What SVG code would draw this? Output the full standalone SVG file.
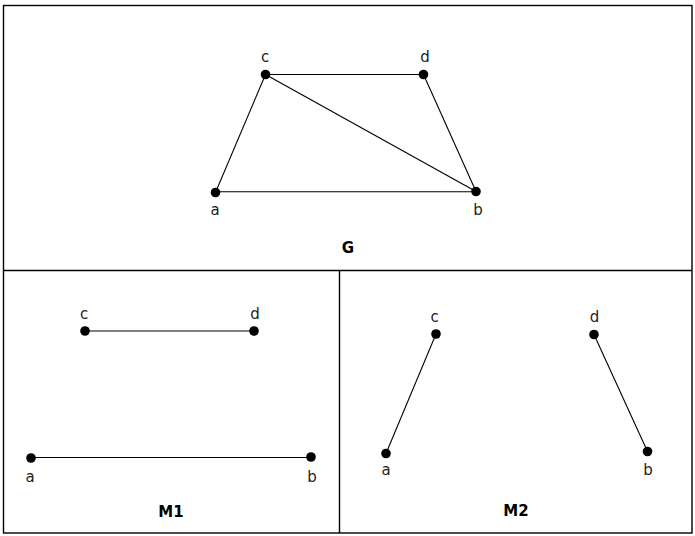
<svg xmlns="http://www.w3.org/2000/svg" width="695" height="536" viewBox="0 0 695 536">
<style>
.frame{fill:none;stroke:#000;stroke-width:1.4}
.edge{stroke:#000;stroke-width:1.1;fill:none}
.dot{fill:#000}
.lbl{font-family:"DejaVu Sans",Verdana,sans-serif;font-size:15px;fill:#222;text-anchor:middle}
.ttl{font-family:"DejaVu Sans",Verdana,sans-serif;font-size:15px;font-weight:bold;fill:#000;text-anchor:middle}
</style>
<rect width="695" height="536" fill="#fff"/>
<g id="frame" class="frame">
<rect x="3.5" y="5.5" width="688.5" height="527.5"/>
<line x1="3.5" y1="270.5" x2="692" y2="270.5"/>
<line x1="339.5" y1="270.5" x2="339.5" y2="533"/>
</g>
<g id="connectors" class="edge">
<line x1="265.5" y1="74.5" x2="423.5" y2="74.5"/>
<line x1="265.5" y1="74.5" x2="215.5" y2="192.5"/>
<line x1="265.5" y1="74.5" x2="476" y2="191.5"/>
<line x1="423.5" y1="74.5" x2="476" y2="191.5"/>
<line x1="215.5" y1="191.8" x2="476" y2="191.8"/>
<line x1="85" y1="331" x2="254" y2="331"/>
<line x1="31" y1="457.5" x2="311" y2="457.5"/>
<line x1="436" y1="334" x2="386" y2="453.5"/>
<line x1="594" y1="334.5" x2="647.5" y2="451.5"/>
</g>
<g id="G">
<g id="G-c"><circle class="dot" cx="265.5" cy="74.5" r="4.8"/><text class="lbl" x="265" y="62">c</text></g>
<g id="G-d"><circle class="dot" cx="423.5" cy="74.5" r="4.8"/><text class="lbl" x="425" y="62">d</text></g>
<g id="G-a"><circle class="dot" cx="215.5" cy="192.5" r="4.8"/><text class="lbl" x="215" y="215">a</text></g>
<g id="G-b"><circle class="dot" cx="476" cy="191.5" r="4.8"/><text class="lbl" x="478" y="215">b</text></g>
<text class="ttl" x="348" y="253">G</text>
</g>
<g id="M1">
<g id="M1-c"><circle class="dot" cx="85" cy="331" r="4.8"/><text class="lbl" x="84" y="319">c</text></g>
<g id="M1-d"><circle class="dot" cx="254" cy="331" r="4.8"/><text class="lbl" x="255" y="319">d</text></g>
<g id="M1-a"><circle class="dot" cx="31" cy="458" r="4.8"/><text class="lbl" x="30" y="482">a</text></g>
<g id="M1-b"><circle class="dot" cx="311" cy="457" r="4.8"/><text class="lbl" x="312" y="482">b</text></g>
<text class="ttl" x="171" y="517">M1</text>
</g>
<g id="M2">
<g id="M2-c"><circle class="dot" cx="436" cy="334" r="4.8"/><text class="lbl" x="434.5" y="322">c</text></g>
<g id="M2-d"><circle class="dot" cx="594" cy="334.5" r="4.8"/><text class="lbl" x="594.5" y="322">d</text></g>
<g id="M2-a"><circle class="dot" cx="386" cy="453.5" r="4.8"/><text class="lbl" x="386" y="475">a</text></g>
<g id="M2-b"><circle class="dot" cx="647.5" cy="451.5" r="4.8"/><text class="lbl" x="648" y="475">b</text></g>
<text class="ttl" x="516" y="516">M2</text>
</g>
</svg>
